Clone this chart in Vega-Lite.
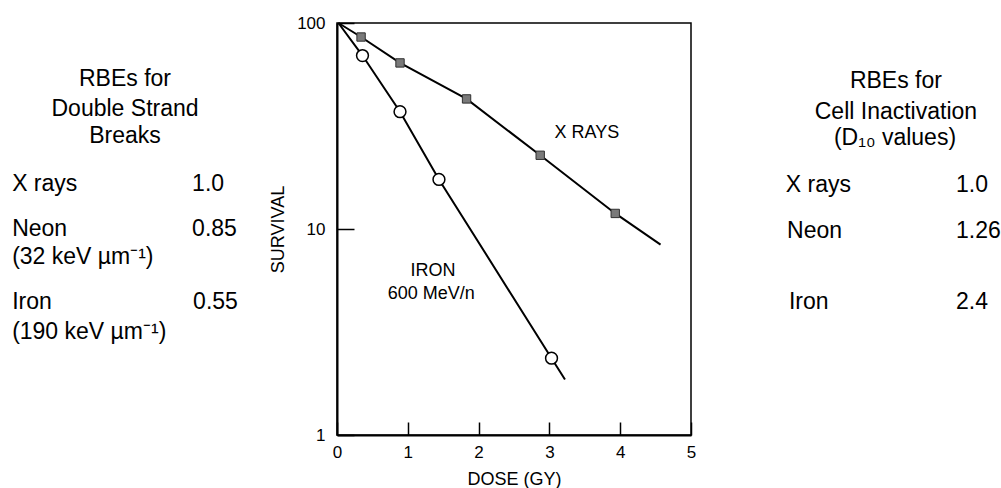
{
  "$schema": "https://vega.github.io/schema/vega-lite/v6.json",
  "background": "white",
  "padding": {"left": 0, "top": 13, "right": 0, "bottom": 0},
  "spacing": 0,
  "bounds": "flush",
  "config": {
    "font": "Liberation Sans",
    "text": {"font": "Liberation Sans", "color": "black"}
  },
  "datasets": {
    "curves": [
      {"series": "X rays", "dose": 0.02, "survival": 100},
      {"series": "X rays", "dose": 0.34, "survival": 85.5},
      {"series": "X rays", "dose": 0.89, "survival": 64},
      {"series": "X rays", "dose": 1.83, "survival": 42.8},
      {"series": "X rays", "dose": 2.87, "survival": 22.8},
      {"series": "X rays", "dose": 3.93, "survival": 11.9},
      {"series": "X rays", "dose": 4.57, "survival": 8.4},
      {"series": "Iron", "dose": 0.02, "survival": 100},
      {"series": "Iron", "dose": 0.36, "survival": 69.5},
      {"series": "Iron", "dose": 0.89, "survival": 37.1},
      {"series": "Iron", "dose": 1.44, "survival": 17.4},
      {"series": "Iron", "dose": 3.03, "survival": 2.36},
      {"series": "Iron", "dose": 3.22, "survival": 1.86}
    ],
    "points": [
      {"series": "X rays", "dose": 0.34, "survival": 85.5},
      {"series": "X rays", "dose": 0.89, "survival": 64},
      {"series": "X rays", "dose": 1.83, "survival": 42.8},
      {"series": "X rays", "dose": 2.87, "survival": 22.8},
      {"series": "X rays", "dose": 3.93, "survival": 11.9},
      {"series": "Iron", "dose": 0.36, "survival": 69.5},
      {"series": "Iron", "dose": 0.89, "survival": 37.1},
      {"series": "Iron", "dose": 1.44, "survival": 17.4},
      {"series": "Iron", "dose": 3.03, "survival": 2.36}
    ],
    "plotLabels": [
      {"text": "X RAYS", "dose": 3.53, "survival": 29.2},
      {"text": "IRON", "dose": 1.356, "survival": 6.27},
      {"text": "600 MeV/n", "dose": 1.33, "survival": 4.82}
    ],
    "leftText": [
      {"kind": "head", "text": "RBEs for", "x": 37.1, "y": 13.5},
      {"kind": "head", "text": "Double Strand", "x": 37.1, "y": 20.8},
      {"kind": "head", "text": "Breaks", "x": 37.1, "y": 27.5},
      {"kind": "row", "text": "X rays", "x": 3.6, "y": 39.0},
      {"kind": "row", "text": "1.0", "x": 57.0, "y": 39.0},
      {"kind": "row", "text": "Neon", "x": 3.6, "y": 49.9},
      {"kind": "row", "text": "0.85", "x": 57.0, "y": 49.9},
      {"kind": "row", "text": "(32 keV µm⁻¹)", "x": 3.6, "y": 56.7},
      {"kind": "row", "text": "Iron", "x": 3.6, "y": 67.6},
      {"kind": "row", "text": "0.55", "x": 57.3, "y": 67.6},
      {"kind": "row", "text": "(190 keV µm⁻¹)", "x": 3.6, "y": 74.9}
    ],
    "rightText": [
      {"kind": "head", "text": "RBEs for", "x": 66.1, "y": 14.0},
      {"kind": "head", "text": "Cell Inactivation", "x": 66.1, "y": 21.5},
      {"kind": "head", "text": "(D₁₀ values)", "x": 65.8, "y": 28.0},
      {"kind": "row", "text": "X rays", "x": 30.6, "y": 39.4},
      {"kind": "row", "text": "1.0", "x": 85.5, "y": 39.4},
      {"kind": "row", "text": "Neon", "x": 31.0, "y": 50.4},
      {"kind": "row", "text": "1.26", "x": 85.5, "y": 50.4},
      {"kind": "row", "text": "Iron", "x": 31.6, "y": 67.8},
      {"kind": "row", "text": "2.4", "x": 85.5, "y": 67.8}
    ]
  },
  "hconcat": [
    {
      "width": 337,
      "height": 412,
      "view": {"stroke": null},
      "data": {"name": "leftText"},
      "encoding": {
        "x": {"field": "x", "type": "quantitative", "scale": {"domain": [0, 100]}, "axis": null},
        "y": {"field": "y", "type": "quantitative", "scale": {"domain": [0, 100], "reverse": true}, "axis": null},
        "text": {"field": "text", "type": "nominal"}
      },
      "layer": [
        {"transform": [{"filter": "datum.kind === 'head'"}], "mark": {"type": "text", "align": "center", "baseline": "middle", "fontSize": 23, "color": "black"}},
        {"transform": [{"filter": "datum.kind === 'row'"}], "mark": {"type": "text", "align": "left", "baseline": "middle", "fontSize": 23, "color": "black"}}
      ]
    },
    {
      "width": 354,
      "height": 412,
      "view": {"stroke": "black", "strokeWidth": 1.5},
      "encoding": {
        "x": {
          "field": "dose", "type": "quantitative", "title": "DOSE (GY)",
          "scale": {"domain": [0, 5], "nice": false},
          "axis": {
            "values": [0, 1, 2, 3, 4, 5], "grid": false, "labelFlush": false, "labelOverlap": false,
            "tickSize": -13, "tickColor": "black", "tickWidth": 1.5,
            "domainColor": "black", "domainWidth": 2,
            "labelFontSize": 17, "labelColor": "black", "labelPadding": 22,
            "titleFontSize": 18, "titleFontWeight": "normal", "titleColor": "black", "titlePadding": 10
          }
        },
        "y": {
          "field": "survival", "type": "quantitative", "title": "SURVIVAL",
          "scale": {"type": "log", "domain": [1, 100], "nice": false},
          "axis": {
            "values": [1, 10, 100], "format": "d", "grid": false, "labelOverlap": false, "labelFlush": false,
            "tickSize": -17, "tickColor": "black", "tickWidth": 1.5,
            "domainColor": "black", "domainWidth": 2,
            "labelFontSize": 17, "labelColor": "black", "labelPadding": 29,
            "titleFontSize": 18, "titleFontWeight": "normal", "titleColor": "black", "titlePadding": 9
          }
        }
      },
      "layer": [
        {
          "data": {"name": "curves"},
          "mark": {"type": "line", "color": "black", "strokeWidth": 2},
          "encoding": {"detail": {"field": "series", "type": "nominal"}}
        },
        {
          "data": {"name": "points"},
          "transform": [{"filter": "datum.series === 'X rays'"}],
          "mark": {"type": "square", "filled": true, "size": 70, "fill": "#7a7a7a", "stroke": "#303030", "strokeWidth": 1, "opacity": 1}
        },
        {
          "data": {"name": "points"},
          "transform": [{"filter": "datum.series === 'Iron'"}],
          "mark": {"type": "point", "shape": "circle", "filled": true, "size": 140, "fill": "white", "stroke": "black", "strokeWidth": 1.5, "opacity": 1}
        },
        {
          "data": {"name": "plotLabels"},
          "mark": {"type": "text", "fontSize": 18, "color": "black", "align": "center", "baseline": "middle"},
          "encoding": {"text": {"field": "text", "type": "nominal"}}
        }
      ]
    },
    {
      "width": 310,
      "height": 412,
      "view": {"stroke": null},
      "data": {"name": "rightText"},
      "encoding": {
        "x": {"field": "x", "type": "quantitative", "scale": {"domain": [0, 100]}, "axis": null},
        "y": {"field": "y", "type": "quantitative", "scale": {"domain": [0, 100], "reverse": true}, "axis": null},
        "text": {"field": "text", "type": "nominal"}
      },
      "layer": [
        {"transform": [{"filter": "datum.kind === 'head'"}], "mark": {"type": "text", "align": "center", "baseline": "middle", "fontSize": 23, "color": "black"}},
        {"transform": [{"filter": "datum.kind === 'row'"}], "mark": {"type": "text", "align": "left", "baseline": "middle", "fontSize": 23, "color": "black"}}
      ]
    }
  ]
}
